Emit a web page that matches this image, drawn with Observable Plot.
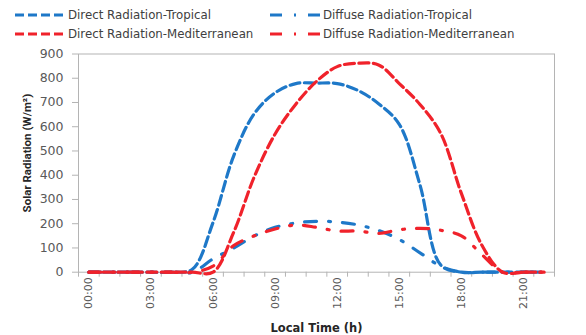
<!DOCTYPE html>
<html>
<head>
<meta charset="utf-8">
<script src="https://cdn.jsdelivr.net/npm/d3@7"></script>
<script src="https://cdn.jsdelivr.net/npm/@observablehq/plot@0.6"></script>
<style>
  body { margin: 0; background: #fff; }
  #wrap { width: 586px; height: 335px; position: relative; }
  #legend { position: relative; width: 586px; height: 44px; font-family: "DejaVu Sans", sans-serif; font-size: 11.8px; color: #404040; }
  .item { position: absolute; height: 16px; display: flex; align-items: center; white-space: nowrap; }
  .item svg { margin-right: 2px; }
</style>
</head>
<body>
<div id="wrap">
  <div id="legend"></div>
  <div id="chart"></div>
</div>
<script>
// ---- data ----
const hours = [0,1,2,3,4,5,6,7,8,9,10,11,12,13,14,15,16,17,18,19,20,21,22];
const directTropical      = [0,0,0,0,0,12,205,480,655,740,778,780,778,750,695,610,360,30,0,0,0,0,0];
const diffuseTropical     = [0,0,0,0,0,0,55,100,150,185,203,210,207,195,172,135,80,25,0,0,0,0,0];
const directMediterranean = [0,0,0,0,0,0,0,165,395,570,693,787,848,862,855,778,692,573,325,110,0,0,0];
const diffuseMediterranean= [0,0,0,0,0,0,25,110,150,178,195,185,170,170,160,175,181,173,150,72,0,0,0];
const seriesNames = ["Direct Radiation-Tropical","Diffuse Radiation-Tropical","Direct Radiation-Mediterranean","Diffuse Radiation-Mediterranean"];
const timeTicks = [0,3,6,9,12,15,18,21];
const timeLabels = ["00:00","03:00","06:00","09:00","12:00","15:00","18:00","21:00"];
const yTicks = [0,100,200,300,400,500,600,700,800,900];
const yTitle = "Solar Radiation (W/m²)";
const xTitle = "Local Time (h)";

const BLUE = "#1e78c8", RED = "#f0222b";
const DASH = "10,4.5", DASHDOT = "12,12,2,12";
const styles = [
  {stroke: BLUE, dash: DASH},
  {stroke: BLUE, dash: DASHDOT},
  {stroke: RED, dash: DASH},
  {stroke: RED, dash: DASHDOT}
];
const allSeries = [directTropical, diffuseTropical, directMediterranean, diffuseMediterranean];

// ---- legend ----
const legend = document.getElementById("legend");
const pos = [[15, 7], [270, 7], [15, 26], [270, 26]];
seriesNames.forEach((name, i) => {
  const it = document.createElement("div");
  it.className = "item";
  it.style.left = pos[i][0] + "px";
  it.style.top = pos[i][1] + "px";
  it.innerHTML = `<svg width="51" height="16"><line x1="0" x2="50" y1="8" y2="8" stroke="${styles[i].stroke}" stroke-width="3" stroke-dasharray="${i % 2 ? DASHDOT : "9,4"}"/></svg><span>${name}</span>`;
  legend.appendChild(it);
});

// ---- chart ----
const rows = [];
allSeries.forEach((vals, si) => hours.forEach((h, j) => rows.push({series: si, hour: h, value: vals[j]})));

const lineMarks = allSeries.map((vals, si) =>
  Plot.line(rows.filter(r => r.series === si), {
    x: "hour", y: "value", curve: "catmull-rom",
    stroke: styles[si].stroke, strokeWidth: 3.2, strokeDasharray: styles[si].dash
  })
);

const chart = Plot.plot({
  width: 586,
  height: 291,
  marginTop: 9.5,
  marginBottom: 63.3,
  marginLeft: 78,
  marginRight: 32,
  style: {fontFamily: "DejaVu Sans, sans-serif", fontSize: "12px", color: "#595959", background: "#fff"},
  x: {domain: [-0.5, 22.5]},
  y: {domain: [0, 900]},
  marks: [
    Plot.frame({stroke: "#b4b4b4"}),
    Plot.axisY({ticks: yTicks, tickSize: 6, tickPadding: 9, stroke: "#b4b4b4", fontSize: 12.5, label: null}),
    Plot.axisX({ticks: d3.range(-0.5, 23, 1), tickSize: 5, tickFormat: () => "", stroke: "#b4b4b4", label: null}),
    Plot.axisX({ticks: timeTicks, tickSize: 0, tickPadding: 5, tickRotate: -90,
      tickFormat: d => timeLabels[timeTicks.indexOf(d)], fontSize: 11, label: null}),
    ...lineMarks,
    Plot.text([yTitle], {frameAnchor: "left", dx: -51, dy: -10, rotate: -90, text: d => d,
      textAnchor: "middle", lineAnchor: "middle",
      fontFamily: "Roboto, sans-serif", fontWeight: "bold", fontSize: 11.5, fill: "#262626"}),
    Plot.text([xTitle], {frameAnchor: "bottom", dy: 56, text: d => d,
      textAnchor: "middle", lineAnchor: "middle",
      fontFamily: "DejaVu Sans, sans-serif", fontWeight: "bold", fontSize: 11.5, fill: "#262626"})
  ]
});
document.getElementById("chart").appendChild(chart);
</script>
</body>
</html>
